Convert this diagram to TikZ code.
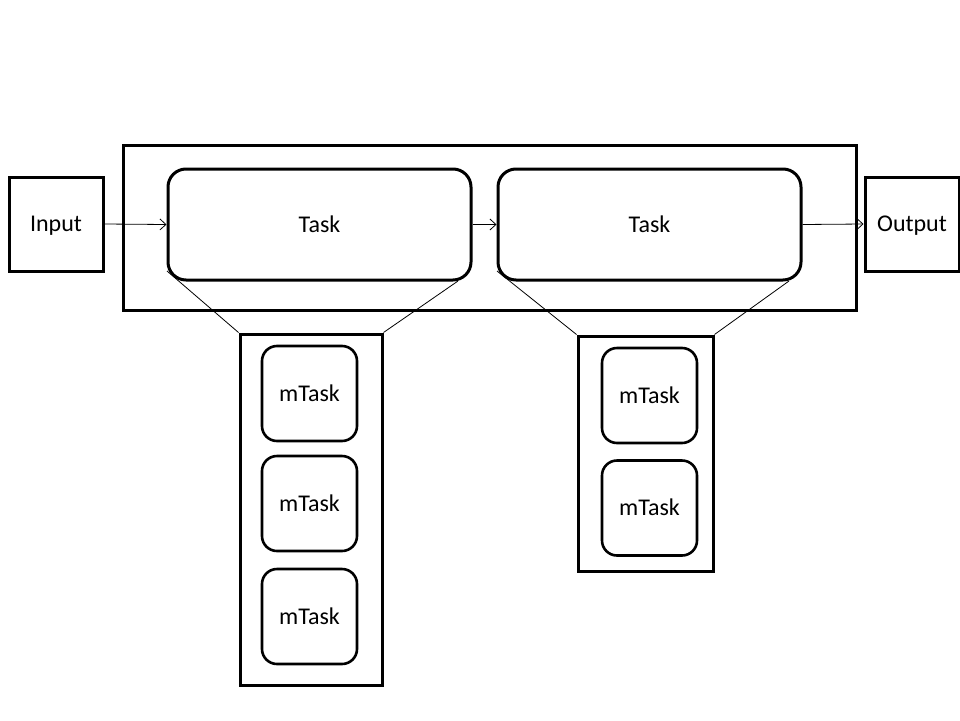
\documentclass[tikz,border=0pt]{standalone}
\usepackage{fontspec}
\setmainfont{Carlito}
\usetikzlibrary{arrows.meta}
\begin{document}
\begin{tikzpicture}[x=1pt,y=-1pt,
  box/.style={draw,line width=3pt,rectangle,inner sep=0pt,font=\fontsize{24}{28}\selectfont,text height=21.6pt,text depth=6pt},
  taskbox/.style={box,rounded corners=18pt,minimum width=303pt,minimum height=111pt},
  mtask/.style={box,line width=2.6pt,rounded corners=15pt,minimum width=95pt,minimum height=95pt},
  io/.style={box,minimum width=94pt,minimum height=94pt},
  flow/.style={line width=0.8pt,-{Straight Barb[length=6pt,width=11pt,line width=0.8pt]}},
  thin/.style={line width=0.8pt}]
\useasboundingbox (0,0) rectangle (960,720);
\fill[white] (0,0) rectangle (960,720);
\node[box,minimum width=733pt,minimum height=165pt] (outer) at (489.5,227.5) {};
\node[io] (in) at (56,224) {Input};
\node[io] (out) at (912,224) {Output};
\node[taskbox] (t1) at (319.5,224.5) {Task};
\node[taskbox] (t2) at (649.5,224.5) {Task};
\node[box,minimum width=142pt,minimum height=351pt] (c1) at (311,509.5) {};
\node[box,minimum width=135pt,minimum height=235pt] (c2) at (645.5,453.5) {};
\node[mtask] (m1) at (309.5,393.5) {mTask};
\node[mtask] (m2) at (309.5,503.5) {mTask};
\node[mtask] (m3) at (309.5,616.5) {mTask};
\node[mtask] (m4) at (649.5,395.5) {mTask};
\node[mtask] (m5) at (649.5,508) {mTask};
\draw[flow] (in.east) -- (t1.west);
\draw[flow] (t1.east) -- (t2.west);
\draw[flow] (t2.east) -- (out.west);
\coordinate (t1a) at (167,271);
\coordinate (t1b) at (458,281);
\coordinate (t2a) at (497,271);
\coordinate (t2b) at (789,281);
\draw[thin] (t1a) -- (c1.north west);
\draw[thin] (t1b) -- (c1.north east);
\draw[thin] (t2a) -- (c2.north west);
\draw[thin] (t2b) -- (c2.north east);
\end{tikzpicture}
\end{document}
